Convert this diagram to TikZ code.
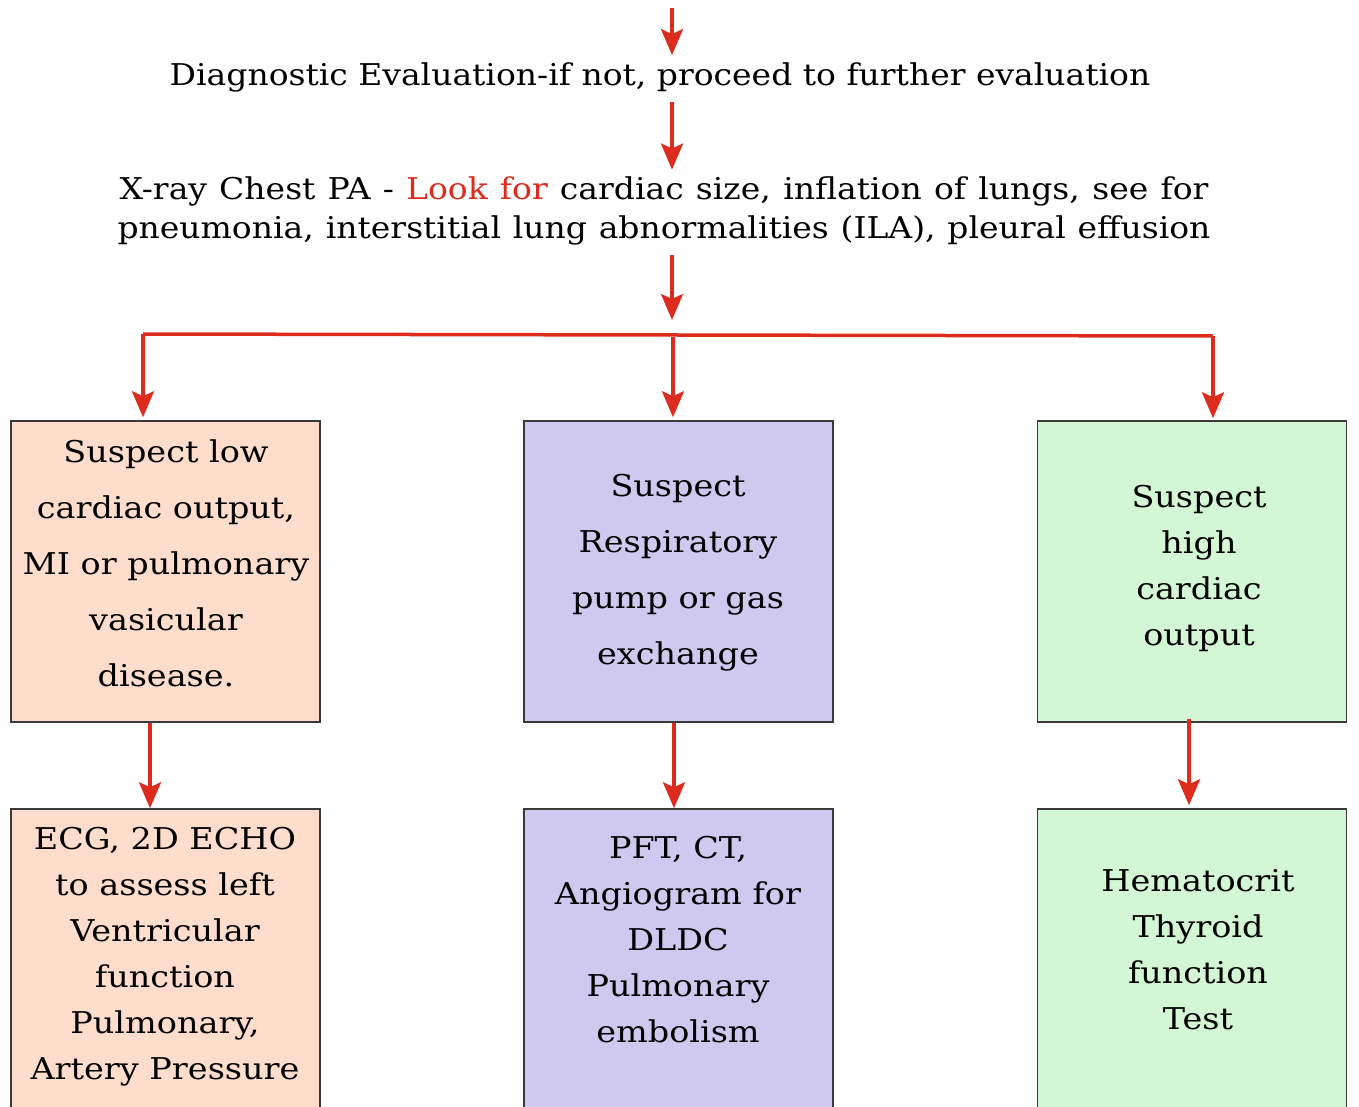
\documentclass[tikz,border=0pt]{standalone}
\usepackage{fontspec}
\setmainfont[FakeStretch=1.115]{DejaVu Serif}
\newfontfamily\headserif[FakeStretch=1.10]{DejaVu Serif}
\usetikzlibrary{arrows.meta}

\definecolor{flowred}{HTML}{DD2C1E}
\definecolor{edgegray}{HTML}{3A3A3A}
\definecolor{peach}{HTML}{FFDDCC}
\definecolor{lilac}{HTML}{CFC8EF}
\definecolor{mint}{HTML}{D3F6D5}

\begin{document}
\begin{tikzpicture}[x=1pt,y=-1pt,
  flow/.style={draw=flowred, line width=3.5pt,
    -{Stealth[length=26pt,width=22pt,inset=5pt]}},
  bar/.style={draw=flowred, line width=3.5pt},
  box/.style={draw=edgegray, line width=1.5pt, inner sep=0pt,
    minimum width=309pt},
  toptext/.style={inner sep=0pt, align=center,
    font=\headserif\fontsize{30}{39}\selectfont},
  wide/.style={inner sep=0pt, align=center,
    font=\fontsize{30}{56}\selectfont},
  tight/.style={inner sep=0pt, align=center,
    font=\fontsize{30}{46}\selectfont}
]
\useasboundingbox (0,0) rectangle (1359,1107);
\clip (0,0) rectangle (1359,1107);

% headings
\node[toptext] (diag) at (660,77) {Diagnostic Evaluation-if not, proceed to further evaluation};
\node[toptext] (xray) at (664,211) {\makebox[1089pt][s]{X-ray Chest PA - \textcolor{flowred}{Look for} cardiac size, inflation of lungs, see for}\\
  \makebox[1093pt][s]{pneumonia, interstitial lung abnormalities (ILA), pleural effusion}};

% first row of boxes
\node[box, fill=peach, minimum height=301pt] (low)  at (165.5,571.5) {};
\node[box, fill=lilac, minimum height=301pt] (resp) at (678.5,571.5) {};
\node[box, fill=mint,  minimum height=301pt] (high) at (1192,571.5) {};

\node[wide]  (lowtxt)  at (166,563) {Suspect low\\cardiac output,\\MI or pulmonary\\vasicular\\disease.};
\node[wide]  (resptxt) at (678,573) {Suspect\\Respiratory\\pump or gas\\exchange};
\node[tight] (hightxt) at (1199,568) {Suspect\\high\\cardiac\\output};

% second row of boxes (continues below the page edge)
\node[box, fill=peach, minimum height=321pt] (echo) at (165.5,969.5) {};
\node[box, fill=lilac, minimum height=321pt] (pft)  at (678.5,969.5) {};
\node[box, fill=mint,  minimum height=321pt] (hct)  at (1192,969.5) {};

\node[tight] (echotxt) at (165,957) {ECG, 2D ECHO\\to assess left\\Ventricular\\function\\Pulmonary,\\Artery Pressure};
\node[tight] (pfttxt)  at (678,940) {PFT, CT,\\Angiogram for\\DLDC\\Pulmonary\\embolism};
\node[tight] (hcttxt)  at (1198,950) {Hematocrit\\Thyroid\\function\\Test};

% connectors
\coordinate (start) at (672,8);
\coordinate (hub)   at (672,320);
\coordinate (barL)  at (143,334);
\coordinate (barM)  at (673,337);
\coordinate (barR)  at (1213,336);

\draw[flow] (start) -- ([yshift=7pt]diag.north -| start);
\draw[flow] ([yshift=-10pt]diag.south -| start) -- ([yshift=7pt]xray.north -| start);
\draw[flow] ([yshift=-10pt]xray.south -| start) -- (hub);

\draw[bar] (barL) -- (barR);
\draw[flow] (barL) -- ([yshift=3pt]barL |- low.north);
\draw[flow] (barM) -- ([yshift=3pt]barM |- resp.north);
\draw[flow] (barR) -- ([yshift=2pt]barR |- high.north);

\draw[flow] ([xshift=-15.5pt]low.south) -- ([xshift=-15.5pt]echo.north);
\draw[flow] ([xshift=-4.5pt]resp.south) -- ([xshift=-4.5pt]pft.north);
\draw[flow] ([xshift=-3pt,yshift=4pt]high.south) -- ([xshift=-3pt,yshift=3pt]hct.north);
\end{tikzpicture}
\end{document}
